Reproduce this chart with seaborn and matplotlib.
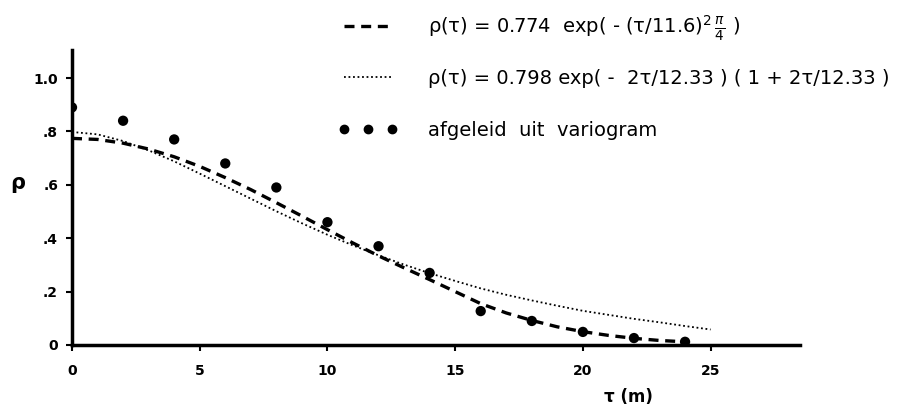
import numpy as np
import pandas as pd
import matplotlib
matplotlib.use("Agg")
import matplotlib.pyplot as plt
from matplotlib.lines import Line2D
import seaborn as sns

# ---- data ----
tau_curve = [0, 1, 2, 3, 4, 5, 6, 7, 8, 9, 10, 11, 12, 13, 14, 15, 16, 17, 18, 19, 20, 21, 22, 23, 24]
rho_gauss = [0.774, 0.770, 0.756, 0.734, 0.705, 0.669, 0.627, 0.582, 0.533, 0.483, 0.432,
             0.382, 0.334, 0.289, 0.245, 0.200, 0.155, 0.120, 0.092, 0.068, 0.050, 0.036,
             0.025, 0.017, 0.012]
tau_curve2 = [0, 1, 2, 3, 4, 5, 6, 7, 8, 9, 10, 11, 12, 13, 14, 15, 16, 17, 18, 19, 20, 21, 22, 23, 24, 25]
rho_expo = [0.798, 0.789, 0.764, 0.729, 0.688, 0.642, 0.595, 0.548, 0.501, 0.456, 0.413,
            0.373, 0.336, 0.301, 0.269, 0.240, 0.212, 0.188, 0.167, 0.147, 0.128, 0.113,
            0.098, 0.085, 0.071, 0.058]
tau_pts = [0, 2, 4, 6, 8, 10, 12, 14, 16, 18, 20, 22, 24]
rho_pts = [0.89, 0.84, 0.77, 0.68, 0.59, 0.46, 0.37, 0.27, 0.127, 0.09, 0.049, 0.026, 0.012]

x_ticks = [0, 5, 10, 15, 20, 25]
x_ticklabels = ["0", "5", "10", "15", "20", "25"]
y_ticks = [0, 0.2, 0.4, 0.6, 0.8, 1.0]
y_ticklabels = ["0", ".2", ".4", ".6", ".8", "1.0"]

label_gauss = r"ρ(τ) = 0.774  exp( - (τ/11.6)$^2\,\frac{\pi}{4}$ )"
label_expo = "ρ(τ) = 0.798 exp( -  2τ/12.33 ) ( 1 + 2τ/12.33 )"
label_pts = "afgeleid  uit  variogram"

sns.set_style("ticks")
plt.rcParams["font.family"] = ["DejaVu Sans"]
plt.rcParams["text.color"] = "black"
plt.rcParams["xtick.color"] = "black"
plt.rcParams["ytick.color"] = "black"
plt.rcParams["axes.labelcolor"] = "black"

fig = plt.figure(figsize=(9.05, 4.05), dpi=100)
ax = fig.add_axes([72 / 905, 60 / 405, 728 / 905, 295 / 405])

df_g = pd.DataFrame({"tau": tau_curve, "rho": rho_gauss})
df_e = pd.DataFrame({"tau": tau_curve2, "rho": rho_expo})
df_p = pd.DataFrame({"tau": tau_pts, "rho": rho_pts})

sns.lineplot(data=df_g, x="tau", y="rho", ax=ax, color="black", lw=2.4,
             linestyle=(0, (3, 2)))
sns.lineplot(data=df_e, x="tau", y="rho", ax=ax, color="black", lw=1.3,
             linestyle=(0, (1, 1.5)))
sns.scatterplot(data=df_p, x="tau", y="rho", ax=ax, color="black", s=55,
                edgecolor="none", zorder=5)

ax.set_xlim(0, 28.5)
ax.set_ylim(0, 1.105)
sns.despine(ax=ax)
for s in ["left", "bottom"]:
    ax.spines[s].set_linewidth(2.5)
    ax.spines[s].set_color("black")

ax.set_xticks(x_ticks)
ax.set_xticklabels(x_ticklabels, fontsize=10, fontweight="bold")
ax.set_yticks(y_ticks)
ax.set_yticklabels(y_ticklabels, fontsize=10, fontweight="bold")
ax.tick_params(axis="both", direction="out", length=4, width=1.5, color="black",
               labelcolor="black")
ax.tick_params(axis="x", pad=10)
ax.tick_params(axis="y", pad=6)

ax.set_xlabel("τ (m)", fontsize=12, fontweight="bold")
ax.xaxis.label.set_va("center")
ax.xaxis.set_label_coords(0.765, -0.176)
ax.set_ylabel("ρ", fontsize=15, rotation=0, fontweight="bold")
ax.yaxis.label.set_va("center")
ax.yaxis.set_label_coords(-0.074, 0.55)

rows = [
    (Line2D([], [], color="black", lw=2.4, linestyle=(0, (3, 2))), label_gauss, 28),
    (Line2D([], [], color="black", lw=1.3, linestyle=(0, (1, 1.5))), label_expo, 78),
    (Line2D([], [], color="black", linestyle="none", marker="o", markersize=6), label_pts, 130),
]
for h, lab, ypix in rows:
    fig.legend([h], [lab], loc="center left",
               bbox_to_anchor=(338 / 905, 1 - ypix / 405),
               frameon=False, fontsize=14, numpoints=3,
               handlelength=3.1, handletextpad=1.55,
               borderpad=0, borderaxespad=0)

fig.savefig("out.png", dpi=100)
